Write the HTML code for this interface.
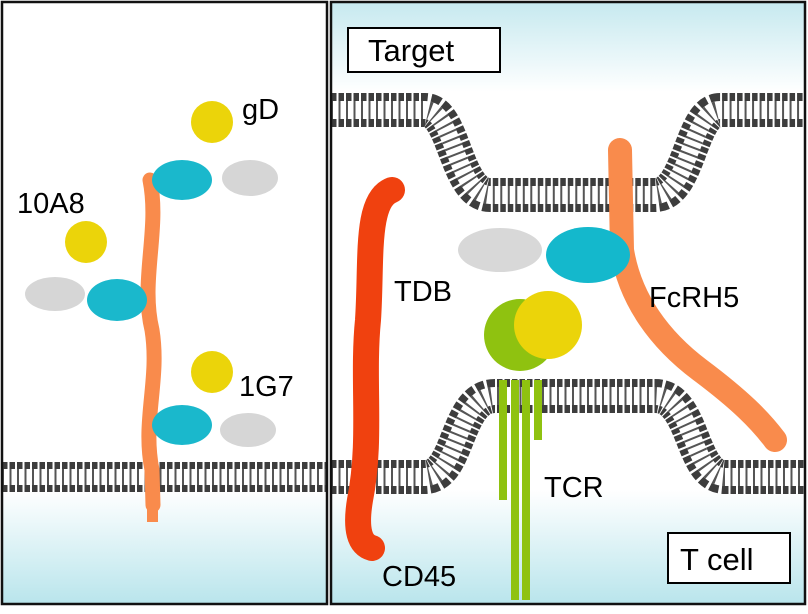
<!DOCTYPE html>
<html><head><style>
body{margin:0;width:808px;height:609px;background:#fff;overflow:hidden;font-family:"Liberation Sans",sans-serif}
</style></head><body>
<svg width="808" height="609" viewBox="0 0 808 609" xmlns="http://www.w3.org/2000/svg">
<defs>
<linearGradient id="gl" x1="0" y1="0" x2="0" y2="1"><stop offset="0" stop-color="#fff"/><stop offset="1" stop-color="#b9e5ec"/></linearGradient>
<linearGradient id="gt" x1="0" y1="0" x2="0" y2="1"><stop offset="0" stop-color="#c6e9ef"/><stop offset="1" stop-color="#fff"/></linearGradient>
</defs>
<rect x="2" y="2" width="325" height="602" fill="#fff"/>
<rect x="2" y="490" width="325" height="114" fill="url(#gl)"/>
<rect x="331" y="2" width="474" height="602" fill="#fff"/>
<rect x="331" y="2" width="474" height="90" fill="url(#gt)"/>
<rect x="331" y="490" width="474" height="114" fill="url(#gl)"/>

<g fill="none">
  <path d="M2 477 H327" stroke="#3d3d3d" stroke-width="30" stroke-dasharray="5.5 2"/>
  <path d="M2 477 H327" stroke="#fff" stroke-width="16"/>
  <path d="M2 477 H327" stroke="#555" stroke-width="16" stroke-dasharray="2 5.5"/>
 <path d="M331 110 H425 C455 110 455 195 490 195 H655 C690 195 690 110 720 110 H805" stroke="#3d3d3d" stroke-width="34" stroke-dasharray="5.5 2"/>
 <path d="M331 110 H425 C455 110 455 195 490 195 H655 C690 195 690 110 720 110 H805" stroke="#fff" stroke-width="18"/>
 <path d="M331 110 H425 C455 110 455 195 490 195 H655 C690 195 690 110 720 110 H805" stroke="#555" stroke-width="18" stroke-dasharray="2 5.5"/>
 <path d="M331 477 H425 C460 477 455 396 495 396 H655 C695 396 690 477 725 477 H805" stroke="#3d3d3d" stroke-width="34" stroke-dasharray="5.5 2"/>
 <path d="M331 477 H425 C460 477 455 396 495 396 H655 C695 396 690 477 725 477 H805" stroke="#fff" stroke-width="18"/>
 <path d="M331 477 H425 C460 477 455 396 495 396 H655 C695 396 690 477 725 477 H805" stroke="#555" stroke-width="18" stroke-dasharray="2 5.5"/>
</g>

<path d="M150 180 C160 230 140 280 152 330 C160 380 142 420 152 470 L153 505" stroke="#f98b4c" stroke-width="15" fill="none" stroke-linecap="round"/>
<rect x="147" y="490" width="11" height="32" fill="#f98b4c"/>
<ellipse cx="250" cy="178" rx="28" ry="18" fill="#d6d6d6"/>
<ellipse cx="182" cy="180" rx="30" ry="20" fill="#1ab8cc"/>
<circle cx="212" cy="122" r="21" fill="#ebd40a"/>
<ellipse cx="55" cy="294" rx="30" ry="17" fill="#d6d6d6"/>
<ellipse cx="117" cy="300" rx="30" ry="21" fill="#1ab8cc"/>
<circle cx="86" cy="242" r="21" fill="#ebd40a"/>
<ellipse cx="248" cy="430" rx="28" ry="17" fill="#d6d6d6"/>
<ellipse cx="182" cy="425" rx="30" ry="20" fill="#1ab8cc"/>
<circle cx="212" cy="372" r="21" fill="#ebd40a"/>

<path d="M392 190 C365 200 372 260 368 320 C362 380 372 440 360 500 C355 530 360 545 372 548" stroke="#f0410f" stroke-width="26" fill="none" stroke-linecap="round"/>
<path d="M620 150 L622 250 C630 300 660 340 700 370 C740 400 760 420 775 440" stroke="#f98b4c" stroke-width="24" fill="none" stroke-linecap="round"/>
<rect x="614" y="143" width="11" height="35" fill="#f98b4c"/>
<ellipse cx="500" cy="250" rx="42" ry="22" fill="#d8d8d8"/>
<ellipse cx="588" cy="255" rx="42" ry="28" fill="#14b8cc"/>
<g stroke="#8fc210" stroke-width="8" fill="none">
<path d="M503 380 V500"/><path d="M515 380 V600"/><path d="M526 380 V600"/><path d="M538 380 V440"/>
</g>
<circle cx="520" cy="335" r="36" fill="#8fc210"/>
<circle cx="548" cy="325" r="34" fill="#ebd40a"/>

<g font-size="29" fill="#000">
<text x="242" y="119">gD</text>
<text x="17" y="213">10A8</text>
<text x="239" y="396">1G7</text>
<text x="394" y="301">TDB</text>
<text x="649" y="307">FcRH5</text>
<text x="544" y="497">TCR</text>
<text x="382" y="586">CD45</text>
</g>
<rect x="348" y="28" width="152" height="44" fill="#fff" stroke="#000" stroke-width="2"/>
<text x="368" y="61" font-size="31">Target</text>
<rect x="668" y="533" width="122" height="50" fill="#fff" stroke="#000" stroke-width="2"/>
<text x="680" y="570" font-size="31">T cell</text>

<rect x="2" y="2" width="325" height="602" fill="none" stroke="#111" stroke-width="2.5"/>
<rect x="331" y="2" width="474" height="602" fill="none" stroke="#111" stroke-width="2.5"/>
</svg>
</body></html>
